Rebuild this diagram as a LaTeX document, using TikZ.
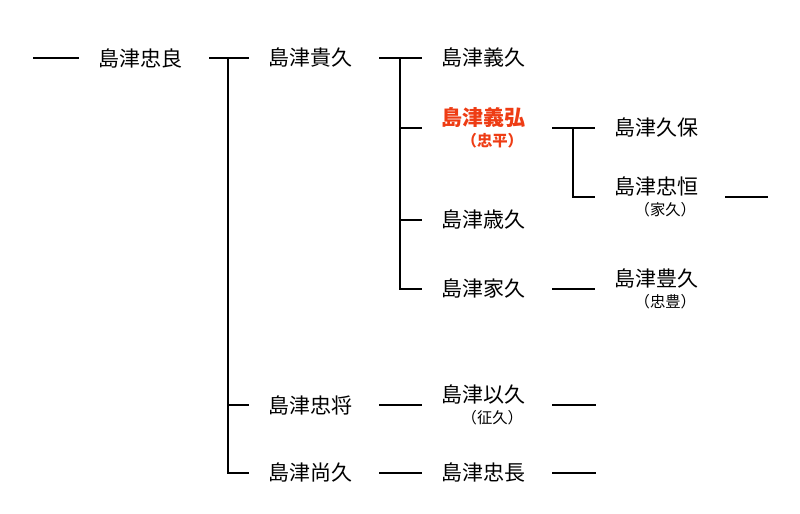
\documentclass[tikz,border=0pt]{standalone}
\usepackage{fontspec}
\setmainfont{Noto Sans CJK JP}
\definecolor{heirred}{RGB}{238, 60, 20}
\newcommand{\aliasname}[1]{\\{\fontsize{11.5}{16}\selectfont\hspace*{14pt}#1}}

\begin{document}
\begin{tikzpicture}[x=0.75pt, y=-0.75pt,
  person/.style={inner xsep=14.25pt, inner ysep=0pt, align=center, font=\fontsize{15.75}{16}\selectfont},
  heir/.style={person, text=heirred, font=\fontsize{15.75}{16}\selectfont\bfseries},
  link/.style={line width=1.5pt},
  fromlink/.style={link, shorten <=6pt}]
  \useasboundingbox (0,0) rectangle (800,514);

  \node[person] (tadayoshi) at (140,58) {島津忠良};
  \node[person] (takahisa) at (310,58) {島津貴久};
  \node[person] (yoshihisa) at (483,58) {島津義久};
  \node[heir] (yoshihiro) at (483,128) {島津義弘\aliasname{（忠平）}};
  \node[person] (toshihisa) at (483,220) {島津歳久};
  \node[person] (iehisa) at (483,289) {島津家久};
  \node[person] (hisayasu) at (656,128) {島津久保};
  \node[person] (tadatsune) at (656,197) {島津忠恒\aliasname{（家久）}};
  \node[person] (toyohisa) at (656,289) {島津豊久\aliasname{（忠豊）}};
  \node[person] (tadamasa) at (310,405) {島津忠将};
  \node[person] (yukihisa) at (483,405) {島津以久\aliasname{（征久）}};
  \node[person] (naohisa) at (310,473) {島津尚久};
  \node[person] (tadanaga) at (483,473) {島津忠長};

  \coordinate (root) at (33,58);
  \coordinate (fork1) at (228,58);
  \coordinate (fork2) at (400,58);
  \coordinate (fork3) at (573,128);
  \coordinate (endA) at (768,197);
  \coordinate (endB) at (596,405);
  \coordinate (endC) at (596,473);

  \draw[link] (root) -- (tadayoshi.west);
  \draw[fromlink] (tadayoshi.east) -- (fork1);
  \draw[link] (takahisa.west) -- (fork1) |- (naohisa.west);
  \draw[link] (fork1 |- tadamasa) -- (tadamasa.west);
  \draw[fromlink] (takahisa.east) -- (fork2);
  \draw[link] (yoshihisa.west) -- (fork2) |- (iehisa.west);
  \draw[link] (fork2 |- yoshihiro) -- (yoshihiro.west);
  \draw[link] (fork2 |- toshihisa) -- (toshihisa.west);
  \draw[fromlink] (yoshihiro.east) -- (fork3);
  \draw[link] (hisayasu.west) -- (fork3) |- (tadatsune.west);
  \draw[fromlink] (iehisa.east) -- (toyohisa.west);
  \draw[fromlink] (tadatsune.east) -- (endA);
  \draw[fromlink] (tadamasa.east) -- (yukihisa.west);
  \draw[fromlink] (yukihisa.east) -- (endB);
  \draw[fromlink] (naohisa.east) -- (tadanaga.west);
  \draw[fromlink] (tadanaga.east) -- (endC);
\end{tikzpicture}
\end{document}
